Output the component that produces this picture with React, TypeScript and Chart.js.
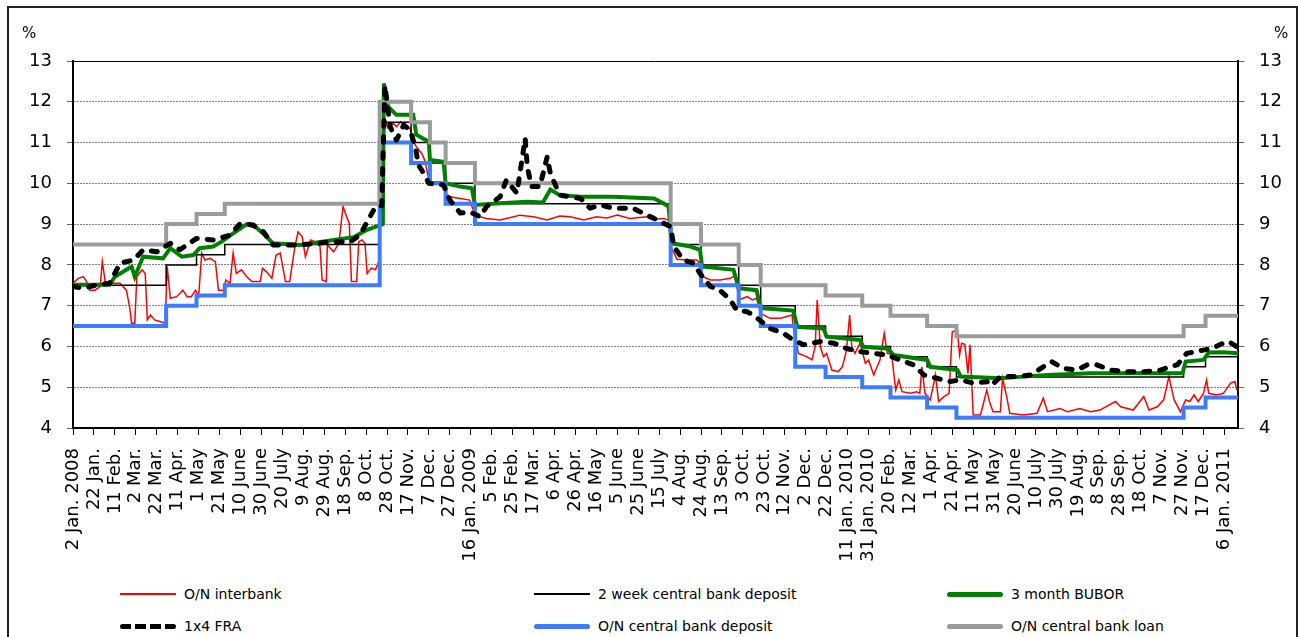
import React, { useEffect, useRef } from 'react';
import { Chart, registerables } from 'chart.js';

Chart.register(...registerables);

const FONT = "'DejaVu Sans', Verdana, sans-serif";

// x-axis tick labels, one every 20 days starting 2 Jan. 2008 (day 0)
const tickLabels = [
  '2 Jan. 2008', '22 Jan.', '11 Feb.', '2 Mar.', '22 Mar.', '11 Apr.', '1 May', '21 May', '10 June', '30 June',
  '20 July', '9 Aug.', '29 Aug.', '18 Sep.', '8 Oct.', '28 Oct.', '17 Nov.', '7 Dec.', '27 Dec.', '16 Jan. 2009',
  '5 Feb.', '25 Feb.', '17 Mar.', '6 Apr.', '26 Apr.', '16 May', '5 June', '25 June', '15 July', '4 Aug.',
  '24 Aug.', '13 Sep.', '3 Oct.', '23 Oct.', '12 Nov.', '2 Dec.', '22 Dec.', '11 Jan. 2010', '31 Jan. 2010', '20 Feb.',
  '12 Mar.', '1 Apr.', '21 Apr.', '11 May', '31 May', '20 June', '10 July', '30 July', '19 Aug.', '8 Sep.',
  '28 Sep.', '18 Oct.', '7 Nov.', '27 Nov.', '17 Dec.', '6 Jan. 2011',
];
const TICK_STEP_DAYS = 20;
const LAST_DAY = 1113;

// policy-rate change days (days since 2 Jan 2008) and levels (%)
const policyDays = [0, 89, 118, 145, 293, 323, 341, 356, 384, 571, 600, 636, 657, 690, 719, 754, 781, 816, 844, 1061, 1082, 1113];
const twoWeekDeposit = [7.5, 8.0, 8.25, 8.5, 11.5, 11.0, 10.5, 10.0, 9.5, 8.5, 8.0, 7.5, 7.0, 6.5, 6.25, 6.0, 5.75, 5.5, 5.25, 5.5, 5.75, 5.75];
const onDeposit = [6.5, 7.0, 7.25, 7.5, 11.0, 10.5, 10.0, 9.5, 9.0, 8.0, 7.5, 7.0, 6.5, 5.5, 5.25, 5.0, 4.75, 4.5, 4.25, 4.5, 4.75, 4.75];
const onLoan = [8.5, 9.0, 9.25, 9.5, 12.0, 11.5, 11.0, 10.5, 10.0, 9.0, 8.5, 8.0, 7.5, 7.5, 7.25, 7.0, 6.75, 6.5, 6.25, 6.5, 6.75, 6.75];

// O/N interbank rate
const interbankDays = [
  0, 5, 10, 13, 16, 21, 26, 28, 31, 45, 51, 54, 56, 59, 61, 66, 69, 71, 74, 78, 83, 88, 90, 93, 99, 105, 109, 113, 117, 120,
  123, 126, 131, 136, 139, 144, 146, 150, 153, 156, 161, 166, 171, 179, 181, 185, 190, 194, 198, 203, 207, 212, 215, 219, 222, 227, 231, 236, 238, 242,
  243, 249, 254, 258, 262, 264, 266, 271, 273, 276, 279, 281, 285, 289, 292, 298, 301, 306, 309, 313, 317, 322, 325, 328, 333, 336, 340, 343, 351, 356,
  360, 370, 379, 384, 395, 408, 421, 427, 440, 453, 465, 475, 488, 500, 510, 520, 532, 548, 556, 564, 569, 571, 577, 586, 596, 599, 602, 609, 618, 628,
  633, 636, 644, 649, 653, 657, 666, 676, 687, 688, 693, 701, 706, 709, 711, 714, 717, 720, 725, 731, 735, 739, 742, 744, 747, 752, 757, 760, 765, 771,
  775, 778, 782, 786, 789, 792, 800, 806, 809, 811, 814, 819, 824, 827, 832, 837, 840, 845, 847, 849, 852, 855, 857, 860, 867, 873, 876, 879, 886, 888,
  892, 895, 908, 921, 927, 931, 943, 950, 962, 972, 981, 996, 1001, 1013, 1023, 1028, 1036, 1042, 1047, 1052, 1058, 1063, 1067, 1071, 1075, 1080, 1083, 1085, 1093, 1099,
  1106, 1110, 1112,
];
const interbankValues = [
  7.55, 7.67, 7.71, 7.59, 7.38, 7.38, 7.47, 8.08, 7.55, 7.55, 7.38, 6.98, 6.57, 6.57, 7.71, 7.88, 7.79, 6.65, 6.77, 6.65, 6.61, 6.57, 7.96, 7.18, 7.22, 7.38, 7.22, 7.22, 7.38, 7.22,
  8.29, 8.12, 8.16, 8.08, 7.38, 7.38, 7.63, 7.55, 8.29, 7.79, 7.88, 7.71, 7.59, 7.59, 7.92, 7.83, 7.67, 8.24, 8.29, 7.59, 7.59, 8.45, 8.81, 8.69, 8.2, 8.61, 8.57, 8.45, 7.63, 7.59,
  8.49, 8.32, 8.53, 9.43, 9.14, 9.02, 7.59, 7.59, 8.57, 8.61, 8.53, 7.79, 7.92, 7.88, 8.08, 11.55, 11.35, 11.47, 11.39, 11.51, 11.39, 11.35, 11.02, 10.9, 10.74, 10.57, 10.08, 10.04, 10.04, 9.76,
  9.67, 9.63, 9.59, 9.22, 9.14, 9.1, 9.18, 9.22, 9.18, 9.1, 9.2, 9.18, 9.1, 9.18, 9.15, 9.22, 9.14, 9.18, 9.12, 9.14, 9.1, 8.45, 8.14, 8.12, 8.12, 8.04, 7.71, 7.63, 7.63, 7.67,
  7.75, 7.14, 7.22, 7.14, 7.18, 6.81, 6.69, 6.69, 6.77, 6.49, 5.83, 5.75, 5.67, 5.99, 7.14, 5.99, 5.75, 5.83, 5.42, 5.38, 5.5, 5.91, 6.77, 5.99, 5.83, 6.08, 5.59, 5.67, 5.3, 5.67,
  6.32, 5.83, 5.83, 4.93, 5.18, 4.89, 4.85, 4.89, 4.85, 5.5, 4.85, 4.69, 5.3, 4.65, 4.77, 4.85, 6.36, 6.4, 5.79, 6.08, 6.05, 5.34, 6.04, 4.32, 4.32, 4.93, 4.61, 4.4, 4.4, 5.22,
  4.77, 4.36, 4.32, 4.36, 4.73, 4.4, 4.48, 4.4, 4.48, 4.4, 4.44, 4.65, 4.52, 4.44, 4.77, 4.44, 4.52, 4.69, 5.26, 4.69, 4.4, 4.69, 4.65, 4.81, 4.65, 4.85, 5.18, 4.85, 4.81, 4.85,
  5.1, 5.14, 4.93,
];

// 3 month BUBOR
const buborDays = [
  0, 35, 40, 56, 59, 67, 86, 93, 104, 115, 121, 134, 142, 153, 166, 174, 185, 191, 217, 249, 268, 281, 296, 297, 301, 309, 325, 328, 340, 341,
  354, 356, 370, 381, 384, 408, 434, 449, 456, 465, 485, 516, 555, 564, 569, 572, 590, 599, 601, 631, 636, 653, 657, 688, 692, 717, 720, 752, 755, 778,
  784, 816, 819, 845, 848, 886, 908, 931, 972, 1060, 1063, 1080, 1085, 1099, 1113,
];
const buborValues = [
  7.51, 7.51, 7.71, 7.96, 7.71, 8.2, 8.16, 8.41, 8.2, 8.24, 8.41, 8.45, 8.57, 8.77, 9.0, 8.94, 8.69, 8.53, 8.49, 8.61, 8.68, 8.86, 9.0, 12.45, 11.88, 11.68, 11.68, 11.19, 11.02, 10.57,
  10.53, 10.0, 9.92, 9.88, 9.47, 9.51, 9.55, 9.53, 9.85, 9.71, 9.67, 9.67, 9.63, 9.51, 9.43, 8.53, 8.45, 8.37, 7.96, 7.88, 7.43, 7.38, 6.94, 6.88, 6.48, 6.44, 6.24, 6.16, 5.99, 5.95,
  5.79, 5.67, 5.5, 5.42, 5.26, 5.22, 5.26, 5.3, 5.34, 5.34, 5.63, 5.67, 5.85, 5.86, 5.83,
];

// 1x4 FRA
const fraDays = [
  0, 10, 23, 35, 45, 58, 67, 80, 93, 102, 118, 134, 150, 160, 172, 182, 191, 217, 249, 265, 274, 282, 289, 295, 298, 303, 309, 316, 322, 327,
  330, 333, 340, 354, 360, 370, 379, 389, 395, 408, 414, 424, 427, 432, 434, 438, 446, 453, 456, 465, 485, 494, 504, 516, 535, 548, 555, 561, 571, 574,
  583, 593, 599, 609, 618, 628, 634, 644, 650, 666, 679, 688, 698, 714, 727, 739, 752, 765, 778, 790, 803, 813, 825, 838, 848, 860, 876, 878, 886, 902,
  915, 927, 935, 946, 959, 969, 978, 991, 1007, 1023, 1039, 1048, 1055, 1064, 1080, 1088, 1099, 1104, 1112,
];
const fraValues = [
  7.47, 7.43, 7.51, 7.55, 8.04, 8.12, 8.37, 8.32, 8.53, 8.37, 8.65, 8.61, 8.73, 9.02, 8.98, 8.81, 8.49, 8.49, 8.57, 8.57, 8.73, 9.1, 9.43, 9.45, 12.4, 11.39, 11.06, 11.43, 11.31, 10.9,
  10.45, 10.33, 10.0, 9.96, 9.59, 9.27, 9.3, 9.18, 9.43, 9.67, 10.08, 9.76, 10.25, 11.1, 10.41, 9.92, 9.92, 10.65, 10.25, 9.71, 9.63, 9.39, 9.47, 9.39, 9.39, 9.22, 9.14, 9.06, 8.94, 8.45,
  8.12, 8.04, 7.79, 7.47, 7.38, 7.14, 6.89, 6.85, 6.77, 6.44, 6.32, 6.16, 6.04, 6.12, 6.08, 5.95, 5.87, 5.83, 5.79, 5.67, 5.55, 5.3, 5.22, 5.14, 5.18, 5.1, 5.14, 5.06, 5.26, 5.26,
  5.3, 5.5, 5.63, 5.46, 5.42, 5.55, 5.55, 5.42, 5.38, 5.38, 5.42, 5.5, 5.55, 5.83, 5.91, 5.95, 6.08, 6.12, 5.99,
];

const pts = (days: number[], values: number[]) => days.map((d, i) => ({ x: d, y: values[i] }));

const topLinePlugin = {
  id: 'topLine',
  beforeDatasetsDraw(chart: any) {
    const { ctx, chartArea, scales } = chart;
    const y = Math.round(scales.y.getPixelForValue(13)) + 0.5;
    ctx.save();
    ctx.strokeStyle = '#000';
    ctx.lineWidth = 1;
    ctx.beginPath();
    ctx.moveTo(chartArea.left, y);
    ctx.lineTo(chartArea.right, y);
    ctx.stroke();
    ctx.restore();
  },
};

type LegendKind = 'red' | 'black' | 'green' | 'fra' | 'blue' | 'gray';

function LegendItem({ left, top, label, kind }: { left: number; top: number; label: string; kind: LegendKind }) {
  let line: React.CSSProperties;
  if (kind === 'red') line = { height: 2, background: '#ff0000' };
  else if (kind === 'black') line = { height: 2, background: '#000' };
  else if (kind === 'green') line = { height: 5, background: '#008000', borderRadius: 3 };
  else if (kind === 'blue') line = { height: 5, background: '#3d7bff', borderRadius: 3 };
  else if (kind === 'gray') line = { height: 5, background: '#9b9b9b', borderRadius: 3 };
  else line = { height: 5, backgroundImage: 'repeating-linear-gradient(90deg, #000 0 11px, transparent 11px 15px)', borderRadius: 3 };
  const h = line.height as number;
  return (
    <div style={{ position: 'absolute', left, top: top - 10, height: 20, width: 300 }}>
      <div style={{ position: 'absolute', left: 0, top: 10 - h / 2, width: 56, ...line }} />
      <div style={{ position: 'absolute', left: 64, top: 0, height: 20, lineHeight: '20px', fontFamily: FONT, fontSize: 14, color: '#000', whiteSpace: 'nowrap' }}>
        {label}
      </div>
    </div>
  );
}

export default function App() {
  const canvasRef = useRef<HTMLCanvasElement>(null);

  useEffect(() => {
    if (!canvasRef.current) return;
    const tickFont = { family: FONT, size: 18 };
    const chart = new Chart(canvasRef.current, {
      type: 'line',
      data: {
        datasets: [
          {
            label: '1x4 FRA', data: pts(fraDays, fraValues), borderColor: '#000', borderWidth: 5,
            borderDash: [6, 10], borderCapStyle: 'round', borderJoinStyle: 'round', pointRadius: 0, order: 0,
          },
          {
            label: 'O/N central bank loan', data: pts(policyDays, onLoan), borderColor: '#9b9b9b', borderWidth: 4,
            stepped: 'before', pointRadius: 0, order: 1,
          },
          {
            label: 'O/N central bank deposit', data: pts(policyDays, onDeposit), borderColor: '#3d7bff', borderWidth: 4,
            stepped: 'before', pointRadius: 0, order: 2,
          },
          {
            label: '3 month BUBOR', data: pts(buborDays, buborValues), borderColor: '#008000', borderWidth: 4,
            pointRadius: 0, order: 3,
          },
          {
            label: '2 week central bank deposit', data: pts(policyDays, twoWeekDeposit), borderColor: '#000', borderWidth: 1.5,
            stepped: 'before', pointRadius: 0, order: 4,
          },
          {
            label: 'O/N interbank', data: pts(interbankDays, interbankValues), borderColor: '#ff0000', borderWidth: 1.5,
            pointRadius: 0, order: 5,
          },
        ],
      },
      options: {
        responsive: false,
        animation: false,
        layout: { padding: { top: 61, left: 0, right: 0, bottom: 0 } },
        plugins: { legend: { display: false }, tooltip: { enabled: false } },
        scales: {
          x: {
            type: 'linear',
            min: 0,
            max: LAST_DAY,
            afterBuildTicks: (scale: any) => {
              scale.ticks = tickLabels.map((_, i) => ({ value: i * TICK_STEP_DAYS }));
            },
            afterFit: (scale: any) => { scale.height = 152; },
            ticks: {
              autoSkip: false,
              minRotation: 90,
              maxRotation: 90,
              padding: 13,
              color: '#000',
              font: tickFont,
              callback: (v: any) => tickLabels[Math.round(Number(v) / TICK_STEP_DAYS)] ?? '',
            },
            grid: { drawOnChartArea: false, drawTicks: true, tickLength: 7, tickColor: '#000', tickWidth: 1 },
            border: { display: true, color: '#000', width: 2 },
          },
          y: {
            position: 'left',
            min: 4,
            max: 13,
            afterFit: (scale: any) => { scale.width = 73; },
            ticks: { stepSize: 1, padding: 15, color: '#000', font: tickFont },
            grid: { color: '#808080', lineWidth: 1, tickLength: 6, tickColor: '#666' },
            border: { display: true, color: '#000', width: 2, dash: [2, 1] },
          },
          y2: {
            position: 'right',
            min: 4,
            max: 13,
            afterFit: (scale: any) => { scale.width = 60; },
            ticks: { stepSize: 1, padding: 15, color: '#000', font: tickFont },
            grid: { drawOnChartArea: false, tickLength: 6, tickColor: '#666' },
            border: { display: true, color: '#000', width: 2 },
          },
        },
      },
      plugins: [topLinePlugin],
    } as any);
    return () => chart.destroy();
  }, []);

  return (
    <div style={{ position: 'fixed', left: 0, top: 0, width: 1298, height: 637, background: '#fff', overflow: 'hidden' }}>
      <div style={{ position: 'absolute', left: 7, top: 6, width: 1287, height: 640, border: '2px solid #222' }} />
      <canvas ref={canvasRef} width={1298} height={580} style={{ position: 'absolute', left: 0, top: 0, width: 1298, height: 580 }} />
      <div style={{ position: 'absolute', left: 22, top: 24, fontFamily: FONT, fontSize: 15, color: '#000' }}>%</div>
      <div style={{ position: 'absolute', left: 1274, top: 24, fontFamily: FONT, fontSize: 15, color: '#000' }}>%</div>
      <LegendItem left={120} top={594} label="O/N interbank" kind="red" />
      <LegendItem left={534} top={594} label="2 week central bank deposit" kind="black" />
      <LegendItem left={947} top={594} label="3 month BUBOR" kind="green" />
      <LegendItem left={120} top={626} label="1x4 FRA" kind="fra" />
      <LegendItem left={534} top={626} label="O/N central bank deposit" kind="blue" />
      <LegendItem left={947} top={626} label="O/N central bank loan" kind="gray" />
    </div>
  );
}
